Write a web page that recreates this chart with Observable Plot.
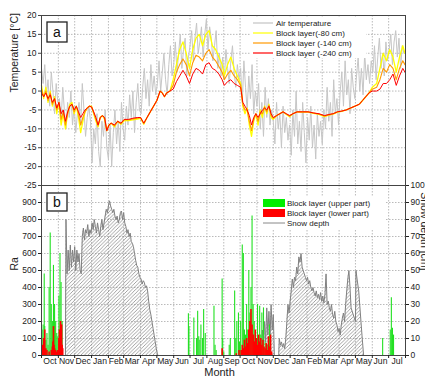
<!DOCTYPE html>
<html><head><meta charset="utf-8">
<script src="https://cdn.jsdelivr.net/npm/d3@7"></script>
<script src="https://cdn.jsdelivr.net/npm/@observablehq/plot@0.6"></script>
<style>
body{margin:0;background:#fff;}
#wrap{position:relative;width:425px;height:380px;overflow:hidden;background:#fff;}
#wrap svg{position:absolute;left:0;}
</style></head><body><div id="wrap"></div>
<script>
const FONT = "'Liberation Sans', Arial, Helvetica, sans-serif";

// ---- x axis: days since 1 Oct (year 1) ----
const monthStarts = [0,31,61,92,123,151,182,212,243,273,304,335,365,396,426,457,488,516,547,577,608,638,669];
const monthLabels = ["Oct","Nov","Dec","Jan","Feb","Mar","Apr","May","Jun","Jul","Aug","Sep","Oct","Nov","Dec","Jan","Feb","Mar","Apr","May","Jun","Jul"];

// ---- panel a ----
const tempTicks = [-25,-20,-15,-10,-5,0,5,10,15,20];
const airStep = 3; // one reading every 3 days
const airTemp = [
  6,2,7,-1,3,-4,5,0,-6,2,-3,
  -2,-8,1,-5,-10,-3,-7,0,-9,-4,
  -11,-6,-3,-9,2,-5,-12,-7,-4,-8,
  -19,-10,-14,-6,-16,-20,-8,-12,-5,-15,
  -18,-9,-20,-11,-5,-14,-8,-16,-3,-10,
  -13,-4,-9,-1,-7,0,-11,-3,2,-5,
  -6,1,6,-2,3,-4,7,0,4,-1,
  2,8,0,5,10,3,-1,7,12,4,
  7,13,5,10,15,6,11,14,4,9,
  12,16,8,14,18,10,13,17,9,15,
  19,11,17,14,8,12,16,6,10,4,
  9,3,11,6,2,8,12,5,1,7,3,
  6,-3,8,1,-5,4,-2,7,-6,0,
  -4,2,-10,-3,-12,1,-7,-2,-9,-5,
  -8,-14,-3,-10,-6,-15,-4,-11,-7,-13,
  -9,-17,-5,-12,0,-14,-8,-16,-3,-11,
  -19,-7,-13,-4,-15,-9,-18,-6,-12,-8,
  -14,-5,-10,1,-8,-3,-12,3,-6,-2,
  -9,0,5,-4,8,-1,3,-6,6,1,-2,
  4,9,0,6,-1,10,3,7,2,8,
  5,12,3,9,14,6,10,4,13,8,
  11,15,7,13,16,9,14,6,12,10
];

const blockDays = [
  0,4,8,12,16,20,24,28,32,36,40,44,48,52,56,60,64,68,72,76,80,84,88,92,
  96,100,104,108,112,116,120,124,128,134,140,146,152,160,168,176,182,188,194,200,206,212,218,222,226,230,236,
  242,248,254,260,266,272,278,284,290,296,302,308,314,320,326,332,336,342,348,354,360,366,
  370,374,378,382,386,390,394,398,402,406,410,414,418,422,426,
  432,438,444,450,456,462,470,480,490,500,510,520,528,536,544,552,560,568,576,584,590,596,602,
  608,616,622,628,634,640,646,652,658,664,668
];
const block80 = [
  1.5,-2,1,-3,0,-4,-1.5,-6,-3,-9,-6,-10,-6,-3.5,-3,-6,-4,-7,-11,-8,-5.5,-4.5,-4,-4,
  -6,-8,-9.5,-7,-6.5,-7.5,-10.5,-9,-8.5,-9.5,-8,-8.8,-7.8,-7.8,-7.6,-7.4,-7.2,-8.8,-7,-5.5,-4,-2.5,0,-0.5,-1.5,-0.5,0,
  3,7,11,13,10,6,11,14,15,12,15,16,12,11,9,7,4,7,9,6,4,2,
  -4,-6,-4.5,-9,-12,-8,-6,-9,-5,-7,-4,-6,-3.5,-7,-7.5,
  -6.5,-6,-5.5,-6.2,-6.8,-6,-5.5,-5.6,-5.6,-5.9,-6.2,-6.8,-6.4,-6.1,-5.6,-5.4,-5,-4.5,-4,-3.5,-2.5,-1.5,-0.5,
  1,2,6,10,8,11,9,5,9,12,10
];
const block140 = [
  0.5,-1.5,0,-2.5,-0.5,-3.5,-2,-5,-3,-7.5,-5.5,-9,-6,-4,-3.5,-5.5,-4,-6,-9,-7,-5.5,-4.5,-4,-4.2,
  -5.8,-7.5,-9.2,-7,-6.5,-7.2,-10.5,-9,-8.5,-9.2,-8,-8.6,-7.6,-7.6,-7.4,-7.2,-7,-8.6,-7,-5.5,-4,-2.5,0,-0.5,-1.5,-0.5,0,
  1.5,5,7,8.5,7,4,7.5,9.5,9,8,10,11,9,8,6.5,5,3,4.5,5.5,4,3,1.5,
  -3.5,-5,-5,-8,-10.5,-7.5,-6,-8,-5.5,-6,-4.2,-5.5,-3.8,-6.5,-7.2,
  -6.5,-6,-5.5,-6.1,-6.6,-6,-5.5,-5.5,-5.5,-5.8,-6.1,-6.6,-6.3,-6,-5.5,-5.3,-5,-4.5,-4,-3.5,-2.5,-1.5,-0.5,
  0.5,1,3,6,5,7,6,3,6,8,7
];
const block240 = [
  -0.5,-1.5,-0.5,-2,-1,-3,-2,-4.5,-3,-6,-5,-8,-5.5,-4,-3.5,-5,-4,-5.5,-7,-6,-5,-4.5,-4,-4.2,
  -5.5,-7,-9,-7,-6.5,-7,-10.5,-9,-8.5,-9,-8,-8.5,-7.5,-7.5,-7.2,-7,-7,-8.5,-7,-5.5,-4,-2.5,0,-0.5,-1.5,-0.5,0,
  0.5,2.5,4,5.5,4,2,4.5,6,5.5,4.5,7,7.5,6,5.5,4.5,3,1.5,2.5,3,2,1.5,1,
  -3,-4,-5,-6.5,-9,-7,-6,-7,-6,-5,-4.5,-5,-4,-6,-7,
  -6.5,-6,-5.5,-6,-6.5,-6,-5.5,-5.5,-5.5,-5.8,-6,-6.5,-6.2,-6,-5.5,-5.3,-5,-4.5,-4,-3.5,-2.5,-1.5,-0.5,
  0,0,0.5,2,2,3,4.5,1.5,4,6,5
];

// ---- panel b ----
const raTicks = [0,100,200,300,400,500,600,700,800,900];
const snowTicks = [0,10,20,30,40,50,60,70,80,90,100];
// [day, Ra]
const raUpper = [
  [1,150],[3,180],[5,480],[6,170],[8,90],[10,130],[12,60],[14,400],[16,720],[18,300],[20,200],[22,530],[24,300],[26,200],[28,130],[30,110],[32,350],[34,600],[36,430],[38,200],
  [270,245],[271,170],[280,220],[285,100],[287,260],[289,110],[291,90],[293,180],[296,100],[298,270],[301,130],[317,290],[319,60],[321,30],
  [332,450],[333,100],[335,20],[345,60],[347,100],[355,380],[357,100],[359,200],[362,250],[364,80],
  [366,200],[369,650],[371,600],[373,150],[375,120],[377,300],[379,150],[381,500],[383,250],[385,400],[387,820],[389,300],[391,200],[393,120],[395,100],[397,300],[399,100],[401,290],[403,120],[405,250],[408,280],[411,80],[415,60],[419,180],[421,120],
  [627,100],[641,150],[643,340],[645,160],[647,120]
];
const raLower = [
  [2,60],[4,100],[5,90],[6,150],[8,40],[10,30],[14,20],[18,30],[20,50],[21,80],[22,170],[23,60],[24,40],[26,30],[28,20],[30,30],[32,100],[33,150],[34,80],[35,200],[36,120],[37,180],[38,60],[39,40],
  [332,40],[358,10],[363,30],
  [367,30],[369,60],[371,40],[373,90],[375,50],[377,100],[379,70],[381,150],[383,200],[385,270],[387,180],[389,120],[391,80],[393,150],[395,100],[397,60],[399,120],[401,80],[403,100],[405,60],[407,90],[409,50],[411,40],[413,70],[415,30],[417,110],[419,50],[421,120],[423,20]
];
// [day, snow depth cm]
const snow1 = [[44,0],[45,80],[47,48],[49,62],[51,50],[53,65],[55,52],[57,62],[59,55],[61,64],[63,50],[65,62],[67,55],[69,60],[71,50],[73,48],[75,70],[77,75],[79,68],[81,74],[83,72],[85,77],[87,70],[89,74],[91,72],[93,78],[95,74],[97,80],[99,76],[101,72],[103,78],[105,74],[107,70],[109,76],[111,80],[113,74],[115,78],[117,82],[119,86],[121,84],[123,88],[125,91],[127,88],[129,86],[131,84],[133,86],[135,82],[137,80],[139,82],[141,78],[143,80],[145,84],[147,85],[149,80],[151,84],[153,78],[155,76],[157,72],[159,74],[161,70],[163,72],[165,67],[167,66],[169,64],[171,60],[173,56],[175,53],[177,52],[179,48],[181,46],[183,45],[185,42],[187,44],[189,43],[191,40],[193,41],[195,38],[197,32],[199,27],[201,24],[203,20],[205,16],[207,12],[209,8],[211,4],[213,1],[214,0]];
const snow2a = [[405,0],[406,15],[408,5],[410,20],[412,8],[414,28],[416,12],[418,26],[420,10],[422,30],[424,15],[426,24],[428,0]];
const snow2b = [[436,0],[437,10],[439,6],[441,8],[443,5],[445,7],[447,4],[449,10],[451,20],[453,30],[455,25],[457,32],[459,38],[461,45],[463,40],[465,46],[467,44],[469,52],[471,48],[473,58],[475,55],[477,60],[479,52],[481,50],[483,48],[485,46],[487,44],[489,46],[491,42],[493,44],[495,40],[497,38],[499,40],[501,37],[503,35],[505,38],[507,34],[509,36],[511,33],[513,37],[515,32],[517,35],[519,31],[521,36],[523,48],[525,30],[527,32],[529,28],[531,26],[533,30],[535,24],[537,22],[539,26],[541,20],[543,18],[545,14],[547,16],[549,12],[551,18],[553,22],[555,25],[557,20],[559,30],[561,38],[563,45],[565,50],[567,40],[569,28],[572,25],[575,22],[577,20],[578,50],[580,45],[583,38],[586,25],[589,12],[592,0]];

// ---- legends ----
const legendA = [
  {label: "Air temperature", color: "#c4c4c4"},
  {label: "Block layer(-80 cm)", color: "#ffff00"},
  {label: "Block layer (-140 cm)", color: "#ff9900"},
  {label: "Block layer (-240 cm)", color: "#ff0000"}
];
const legendB = [
  {label: "Block layer (upper part)", color: "#00ee00", kind: "rect"},
  {label: "Block layer (lower part)", color: "#ff0000", kind: "rect"},
  {label: "Snow depth", color: "#888", kind: "line"}
];

// ---- tables ----
const airRows = airTemp.map((t, i) => ({day: i * airStep, t}));
const blockRows = blockDays.map((day, i) => ({day, b80: block80[i], b140: block140[i], b240: block240[i]}));
const monthMids = monthStarts.slice(0, -1).map((s, i) => (s + monthStarts[i + 1]) / 2);
const midLabel = new Map(monthMids.map((m, i) => [m, monthLabels[i]]));
const SNOW_TO_RA = 10; // right axis 0–100 cm corresponds to left axis 0–1000

const gridStyle = {stroke: "#a8a8a8", strokeOpacity: 1, strokeDasharray: "1.5,1.5", strokeWidth: 0.8};
const baseStyle = {background: "transparent", fontFamily: FONT, fontSize: "8.5px", color: "#222", overflow: "visible"};

function labelBox(ch, top, h) {
  return (index, scales, values, dims) => {
    const g = d3.create("svg:g");
    const x = dims.marginLeft + 6;
    g.append("rect").attr("x", x).attr("y", top).attr("width", 20).attr("height", h)
      .attr("fill", "white").attr("stroke", "#222").attr("stroke-width", 1.3);
    g.append("text").attr("x", x + 10).attr("y", top + h / 2).attr("dy", "0.36em")
      .attr("text-anchor", "middle").attr("font-size", 14).attr("font-family", FONT).attr("fill", "#111").text(ch);
    return g.node();
  };
}

function legendMarkA(index, scales, values, dims) {
  const g = d3.create("svg:g").attr("font-family", FONT).attr("font-size", 8);
  const x0 = dims.width - dims.marginRight - 152, y0 = 23;
  g.append("rect").attr("x", x0 - 3).attr("y", y0 - 6).attr("width", 116).attr("height", 41).attr("fill", "white");
  legendA.forEach((it, i) => {
    const y = y0 + i * 10;
    g.append("line").attr("x1", x0).attr("x2", x0 + 20).attr("y1", y).attr("y2", y)
      .attr("stroke", it.color).attr("stroke-width", 1.2);
    g.append("text").attr("x", x0 + 23).attr("y", y).attr("dy", "0.35em").attr("text-anchor", "start")
      .attr("fill", "#222").text(it.label);
  });
  return g.node();
}

function legendMarkB(index, scales, values, dims) {
  const g = d3.create("svg:g").attr("font-family", FONT).attr("font-size", 8);
  const x0 = dims.width - dims.marginRight - 142, y0 = 19;
  g.append("rect").attr("x", x0 - 4).attr("y", y0 - 7).attr("width", 126).attr("height", 33).attr("fill", "white");
  legendB.forEach((it, i) => {
    const y = y0 + i * 10;
    if (it.kind === "rect") {
      g.append("rect").attr("x", x0).attr("y", y - 4).attr("width", 22).attr("height", 8).attr("fill", it.color);
    } else {
      g.append("line").attr("x1", x0).attr("x2", x0 + 22).attr("y1", y).attr("y2", y)
        .attr("stroke", it.color).attr("stroke-width", 1);
    }
    g.append("text").attr("x", x0 + 24).attr("y", y).attr("dy", "0.35em").attr("text-anchor", "start")
      .attr("fill", "#222").text(it.label);
  });
  return g.node();
}

function hatchDefs() {
  const ns = "http://www.w3.org/2000/svg";
  const defs = document.createElementNS(ns, "defs");
  defs.innerHTML = '<pattern id="hatch" patternUnits="userSpaceOnUse" width="3.6" height="3.6">' +
    '<path d="M-0.9,0.9 L0.9,-0.9 M0,3.6 L3.6,0 M2.7,4.5 L4.5,2.7" stroke="#7a7a7a" stroke-width="0.7"/></pattern>';
  return defs;
}

const plotA = Plot.plot({
  width: 425, height: 186,
  marginLeft: 41, marginRight: 20, marginTop: 15, marginBottom: 1,
  style: baseStyle,
  x: {domain: [0, 669], axis: null},
  y: {domain: [-25, 20], axis: null},
  marks: [
    Plot.gridY({ticks: tempTicks, ...gridStyle}),
    Plot.gridX({ticks: monthStarts.slice(1, -1), ...gridStyle}),
    Plot.lineY(airRows, {x: "day", y: "t", stroke: "#c6c6c6", strokeWidth: 1}),
    Plot.lineY(blockRows, {x: "day", y: "b80", stroke: "#ffff00", strokeWidth: 1.3}),
    Plot.lineY(blockRows, {x: "day", y: "b140", stroke: "#ff9900", strokeWidth: 1.1}),
    Plot.lineY(blockRows, {x: "day", y: "b240", stroke: "#ff0000", strokeWidth: 1}),
    Plot.frame({stroke: "#444"}),
    Plot.axisY({ticks: tempTicks, tickSize: 3, tickPadding: 2, tickFormat: d => String(d), label: null, stroke: "#444"}),
    Plot.text(["Temperature [°C]"], {text: d => d, frameAnchor: "left", dx: -27, dy: -8, rotate: -90, fontSize: 10.5, fill: "#222"}),
    legendMarkA,
    labelBox("a", 22, 20)
  ]
});
plotA.style.top = "0px";

const plotB = Plot.plot({
  width: 425, height: 196,
  marginLeft: 41, marginRight: 20, marginTop: 1, marginBottom: 25,
  style: baseStyle,
  x: {domain: [0, 669], axis: null},
  y: {domain: [0, 1000], axis: null},
  marks: [
    hatchDefs,
    Plot.gridY({ticks: raTicks.slice(1), ...gridStyle}),
    Plot.gridX({ticks: monthStarts.slice(1, -1), ...gridStyle}),
    ...[snow1, snow2a, snow2b].flatMap(s => [
      Plot.areaY(s, {x: d => d[0], y: d => d[1] * SNOW_TO_RA, fill: "url(#hatch)", curve: "linear"}),
      Plot.lineY(s, {x: d => d[0], y: d => d[1] * SNOW_TO_RA, stroke: "#808080", strokeWidth: 1})
    ]),
    Plot.ruleX(raUpper, {x: d => d[0], y1: 0, y2: d => d[1], stroke: "#22e022", strokeWidth: 1.1}),
    Plot.ruleX(raLower, {x: d => d[0], y1: 0, y2: d => d[1], stroke: "#ff0000", strokeWidth: 1.6}),
    Plot.frame({stroke: "#444"}),
    Plot.axisY({ticks: raTicks, tickSize: 3, tickPadding: 2, tickFormat: d => String(d), label: null}),
    Plot.axisY({anchor: "right", ticks: snowTicks.map(v => v * SNOW_TO_RA), tickSize: 3, tickPadding: 2, tickFormat: d => String(d / SNOW_TO_RA), label: null}),
    Plot.axisX({ticks: monthStarts, tickSize: 3, tickFormat: () => "", label: null}),
    Plot.axisX({ticks: monthMids, tickSize: 0, tickPadding: 2, tickFormat: d => midLabel.get(d), fontSize: 8.6, label: null}),
    Plot.text(["Ra"], {text: d => d, frameAnchor: "left", dx: -27, rotate: -90, fontSize: 10.5, fill: "#222"}),
    Plot.text(["Snow depth [cm]"], {text: d => d, frameAnchor: "right", dx: 19, rotate: 90, fontSize: 10.5, fill: "#222"}),
    Plot.text(["Month"], {text: d => d, frameAnchor: "bottom", dx: -4, dy: 20, fontSize: 11, fill: "#222"}),
    legendMarkB,
    labelBox("b", 9, 18)
  ]
});
plotB.style.top = "184px";

const wrap = document.getElementById("wrap");
wrap.appendChild(plotA);
wrap.appendChild(plotB);
</script>
</body></html>
